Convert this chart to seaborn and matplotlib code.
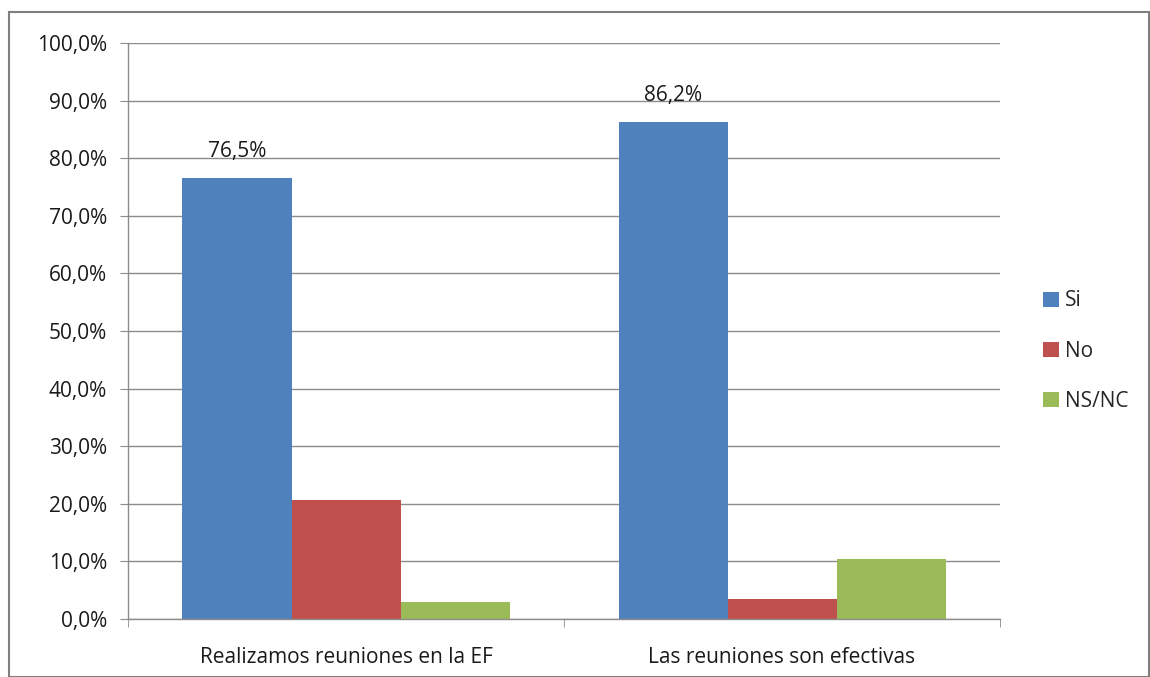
import seaborn as sns
import matplotlib.pyplot as plt
import pandas as pd
from matplotlib.ticker import FuncFormatter, FixedLocator

categories = ['Realizamos reuniones en la EF', 'Las reuniones son efectivas']
series = ['Si', 'No', 'NS/NC']
si_values = [76.5, 86.2]
no_values = [20.6, 3.4]
nsnc_values = [2.9, 10.4]
colors = ['#4F81BD', '#C0504D', '#9BBB59']

rows = []
for i, cat in enumerate(categories):
    for name, vals in zip(series, [si_values, no_values, nsnc_values]):
        rows.append({'categoria': cat, 'serie': name, 'valor': vals[i]})
df = pd.DataFrame(rows)

sns.set_style('white')
plt.rcParams['font.family'] = ['Open Sans', 'DejaVu Sans']

fig = plt.figure(figsize=(11.5, 6.77), dpi=100)
ax = fig.add_axes([128 / 1150, 1 - 619 / 677, 872 / 1150, 576 / 677])

sns.barplot(data=df, x='categoria', y='valor', hue='serie', palette=colors,
            width=0.75, ax=ax, saturation=1, edgecolor='none')

ax.set_ylim(0, 100)
ax.set_xlim(-0.5, 1.5)
ax.set_yticks(range(0, 101, 10))
ax.yaxis.set_major_formatter(FuncFormatter(lambda v, p: f'{v:.1f}%'.replace('.', ',')))
ax.grid(axis='y', color='#8C8C8C', linewidth=1)
ax.set_axisbelow(True)
ax.set_xlabel('')
ax.set_ylabel('')

for s in ['top', 'right']:
    ax.spines[s].set_visible(False)
for s in ['left', 'bottom']:
    ax.spines[s].set_color('#8C8C8C')
    ax.spines[s].set_linewidth(1)

ax.tick_params(axis='y', length=6, color='#8C8C8C', labelsize=15, pad=9, left=True,
               direction='out', labelcolor='#1a1a1a')
ax.tick_params(axis='x', length=0, labelsize=15, pad=20, labelcolor='#1a1a1a')
ax.xaxis.set_minor_locator(FixedLocator([-0.5, 0.5, 1.5]))
ax.tick_params(axis='x', which='minor', length=6, color='#8C8C8C', bottom=True, direction='out')

# data labels only on the "Si" bars
si_bars = ax.containers[0]
ax.bar_label(si_bars, labels=[f'{v:.1f}%'.replace('.', ',') for v in si_values],
             padding=12, fontsize=15, color='#1a1a1a')

leg = ax.legend(loc='center left', bbox_to_anchor=(1.028, 0.465), frameon=False,
                fontsize=15, handlelength=0.75, handleheight=0.75,
                handletextpad=0.3, labelspacing=1.4)

# outer chart border
border = plt.Rectangle((9 / 1150, 0), 1 - 10 / 1150, 1 - 12 / 677, transform=fig.transFigure,
                       fill=False, edgecolor='#7F7F7F', linewidth=1.5)
fig.patches.append(border)

fig.savefig('out.png', dpi=100)
